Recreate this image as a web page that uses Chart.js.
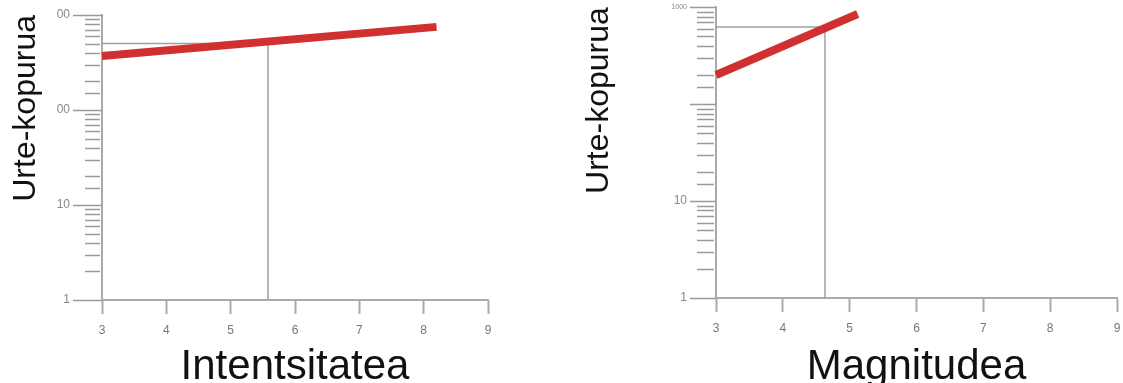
<!DOCTYPE html>
<html>
<head>
<meta charset="utf-8">
<script src="https://cdn.jsdelivr.net/npm/chart.js@4"></script>
<style>
body{margin:0;background:#fff;}
canvas{position:absolute;top:0;}
</style>
</head>
<body>
<canvas id="left" width="560" height="383" style="left:0"></canvas>
<canvas id="right" width="563" height="383" style="left:560px"></canvas>
<script>
var yTitle = "Urte-kopurua";
var leftXTitle = "Intentsitatea";
var rightXTitle = "Magnitudea";

var xTicks = [3, 4, 5, 6, 7, 8, 9];
var yDecades = [1, 10, 100, 1000];
var leftYLabels = ["1", "10", "00", "00"];
var rightYLabels = ["1", "10", "", "1000"];

// intentsitatea
var leftLineX = [3, 8.2];
var leftLineY = [370, 750];
var leftRefX = [3, 5.58, 5.58];
var leftRefY = [500, 500, 1];

// magnitudea
var rightLineX = [3, 5.12];
var rightLineY = [200, 850];
var rightRefX = [3, 4.63, 4.63];
var rightRefY = [625, 625, 1];

function pts(xs, ys) {
  return xs.map(function (x, i) { return {x: x, y: ys[i]}; });
}

function decadeIndex(v) {
  for (var i = 0; i < yDecades.length; i++) {
    if (Math.abs(yDecades[i] - v) < 1e-6) return i;
  }
  return -1;
}

// log axis ticks: long at decades, short in between
var yTicksPlugin = {
  id: 'yTicks',
  afterDraw: function (chart, args, opts) {
    var sc = chart.scales.y, ctx = chart.ctx, x0 = sc.right;
    ctx.save();
    ctx.strokeStyle = '#9a9a9a';
    ctx.lineWidth = 1.5;
    sc.ticks.forEach(function (t) {
      var y = Math.round(sc.getPixelForValue(t.value)) + 0.5;
      var major = decadeIndex(t.value) >= 0;
      ctx.beginPath();
      ctx.moveTo(x0 - (major ? opts.major : opts.minor), y);
      ctx.lineTo(x0 - (major ? 0 : 2), y);
      ctx.stroke();
    });
    ctx.restore();
  }
};

function makeChart(id, c) {
  return new Chart(document.getElementById(id), {
    type: 'scatter',
    data: {
      datasets: [
        {
          data: pts(c.lineX, c.lineY),
          showLine: true,
          borderColor: '#d0302f',
          borderWidth: 8,
          pointRadius: 0,
          clip: false
        },
        {
          data: pts(c.refX, c.refY),
          showLine: true,
          borderColor: '#a0a0a0',
          borderWidth: 1.5,
          pointRadius: 0
        }
      ]
    },
    options: {
      responsive: false,
      animation: false,
      layout: {padding: {left: 0, top: c.top, right: c.right, bottom: 0}},
      plugins: {
        legend: {display: false},
        tooltip: {enabled: false},
        yTicks: {major: c.major, minor: c.minor}
      },
      scales: {
        x: {
          type: 'linear',
          min: 3,
          max: 9,
          afterBuildTicks: function (sc) {
            sc.ticks = xTicks.map(function (v) { return {value: v}; });
          },
          afterFit: function (sc) {
            sc.height = c.xHeight;
            sc.paddingRight = 3;
          },
          grid: {drawOnChartArea: false, tickLength: 14, tickColor: '#aaa', tickWidth: 2},
          border: {color: '#aaa', width: 2},
          ticks: {padding: 9, color: '#777', font: {family: 'Liberation Sans', size: 12}},
          title: {
            display: true,
            text: c.xTitle,
            color: '#111',
            font: {family: 'Liberation Sans', size: 42, lineHeight: 0.75},
            padding: {top: 0, bottom: 0}
          }
        },
        y: {
          type: 'logarithmic',
          min: 1,
          max: 1000,
          afterFit: function (sc) { sc.width = c.yWidth; },
          grid: {drawOnChartArea: false, tickLength: c.major, tickColor: 'rgba(0,0,0,0)'},
          border: {color: '#aaa', width: 2},
          ticks: {
            autoSkip: false,
            padding: 3,
            color: '#888',
            font: function (ctx) {
              var v = ctx.tick ? ctx.tick.value : 0;
              return {family: 'Liberation Sans', size: v === 1000 && c.tinyTop ? 7 : 12};
            },
            callback: function (v) {
              var i = decadeIndex(v);
              return i >= 0 ? c.yLabels[i] : '';
            }
          },
          title: {
            display: true,
            text: yTitle,
            align: 'end',
            color: '#111',
            font: {family: 'Liberation Sans', size: 32, lineHeight: 1.2},
            padding: {top: c.titlePad, bottom: 0}
          }
        }
      }
    },
    plugins: [yTicksPlugin]
  });
}

makeChart('left', {
  lineX: leftLineX, lineY: leftLineY, refX: leftRefX, refY: leftRefY,
  xTitle: leftXTitle, yLabels: leftYLabels, tinyTop: false,
  top: 15, right: 72, xHeight: 83, yWidth: 102, titlePad: 7,
  major: 29, minor: 17
});

makeChart('right', {
  lineX: rightLineX, lineY: rightLineY, refX: rightRefX, refY: rightRefY,
  xTitle: rightXTitle, yLabels: rightYLabels, tinyTop: true,
  top: 5, right: 6, xHeight: 85, yWidth: 156, titlePad: 20,
  major: 26, minor: 19
});
</script>
</body>
</html>
